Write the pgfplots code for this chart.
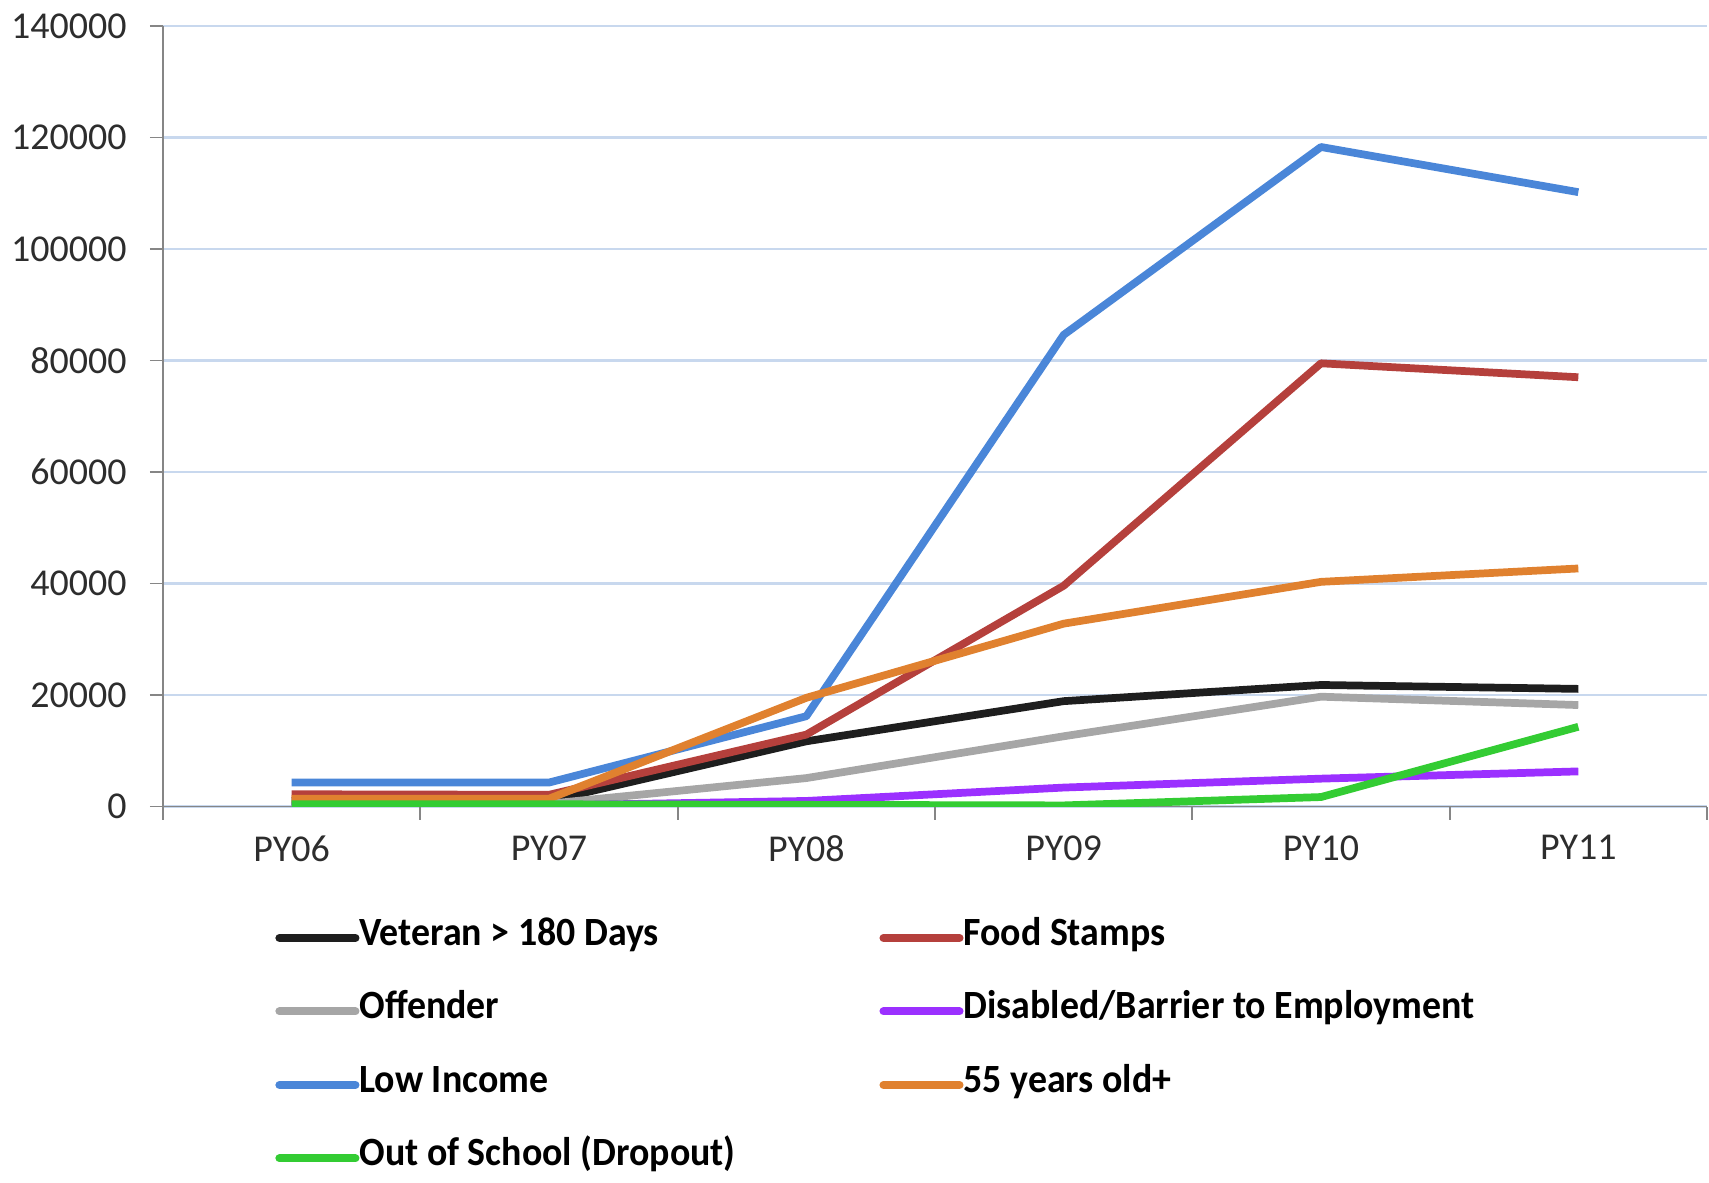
\documentclass[border=0pt]{standalone}
\usepackage{fontspec}
\setmainfont{Carlito}
\newfontfamily\legfont[FakeStretch=0.945]{Carlito}
\usepackage{pgfplots}
\pgfplotsset{compat=1.18}
\usetikzlibrary{calc}

\definecolor{vetblack}{RGB}{30,30,30}
\definecolor{foodred}{RGB}{181,64,60}
\definecolor{offgray}{RGB}{166,166,166}
\definecolor{disviolet}{RGB}{155,48,255}
\definecolor{lowblue}{RGB}{74,134,216}
\definecolor{oldorange}{RGB}{224,129,47}
\definecolor{dropgreen}{RGB}{51,204,51}
\definecolor{gridblue}{RGB}{200,216,238}
\definecolor{axgray}{RGB}{134,134,134}
\definecolor{labgray}{RGB}{45,45,45}

\newcommand{\colone}[1]{\makebox[52.0mm][l]{#1}}

\begin{document}
\begin{tikzpicture}
\begin{axis}[
  scale only axis,
  width=154.4mm,
  height=78.05mm,
  xmin=-0.5, xmax=5.5,
  ymin=0, ymax=140000,
  axis lines*=left,
  axis line style={axgray, line width=0.5pt},
  tick align=outside,
  major tick length=1.3mm,
  minor tick length=1.3mm,
  tick style={axgray, line width=0.5pt},
  major x tick style={draw=none},
  xtick={0,...,5},
  xticklabels={PY06,PY07,PY08,PY09,PY10,PY11},
  minor xtick={-0.5,0.5,...,5.5},
  ytick={0,20000,...,140000},
  scaled y ticks=false,
  yticklabel style={xshift=-1.1mm, /pgf/number format/fixed, /pgf/number format/set thousands separator={}, /pgf/number format/assume math mode=true},
  ymajorgrids=true,
  grid style={gridblue, line width=0.6pt},
  ticklabel style={font=\fontsize{10.8}{13}\selectfont, text=labgray},
  xticklabel style={yshift=-0.35mm},
  every axis plot/.append style={line width=2.2pt, line join=round},
  legend columns=2,
  legend cell align=left,
  legend image code/.code={\draw[#1, line width=2.3pt, line cap=round] (0mm,0mm) -- (7.6mm,0mm);},
  legend style={
    at={(axis description cs:0.0655,-0.1360)}, anchor=north west,
    draw=none, fill=none,
    font=\legfont\bfseries\fontsize{11.4}{13}\selectfont,
    nodes={inner sep=0pt, text height=2.5mm, text depth=1mm},
    row sep=3.85mm,
  },
]
\addplot[vetblack] coordinates {(0,1000) (1,1000) (2,11700) (3,18900) (4,21800) (5,21100)};
\addlegendentry{\colone{Veteran > 180 Days}}
\addplot[foodred] coordinates {(0,2200) (1,2100) (2,12900) (3,39600) (4,79500) (5,77000)};
\addlegendentry{Food Stamps}
\addplot[offgray] coordinates {(0,500) (1,500) (2,5100) (3,12600) (4,19700) (5,18200)};
\addlegendentry{\colone{Offender}}
\addplot[disviolet] coordinates {(0,100) (1,200) (2,1000) (3,3400) (4,5000) (5,6300)};
\addlegendentry{Disabled/Barrier to Employment}
\addplot[lowblue] coordinates {(0,4300) (1,4300) (2,16200) (3,84600) (4,118300) (5,110200)};
\addlegendentry{\colone{Low Income}}
\addplot[oldorange] coordinates {(0,1400) (1,1400) (2,19500) (3,32800) (4,40300) (5,42700)};
\addlegendentry{55 years old+}
\addplot[dropgreen] coordinates {(0,400) (1,400) (2,300) (3,200) (4,1700) (5,14300)};
\addlegendentry{\colone{Out of School (Dropout)}}
\end{axis}
\pgfresetboundingbox
\path ($(current axis.south west)+(-16.3mm,-37.55mm)$) rectangle ++(170.9mm,118.2mm);
\end{tikzpicture}
\end{document}
